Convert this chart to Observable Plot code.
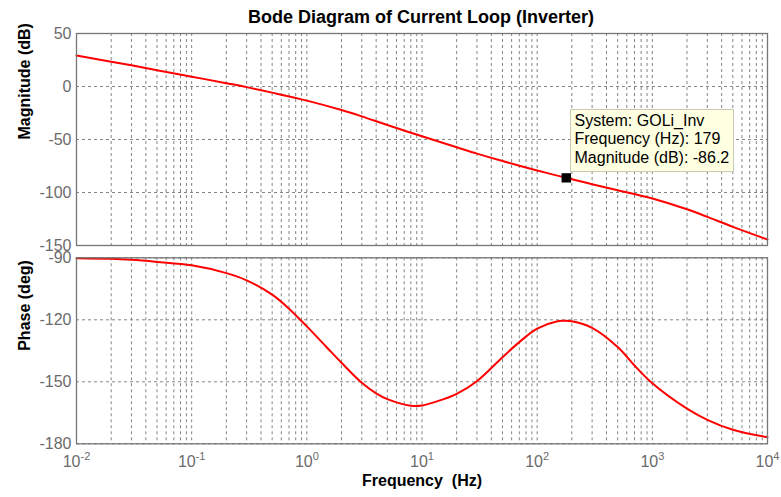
<!DOCTYPE html>
<html>
<head>
<meta charset="utf-8">
<script src="https://cdn.jsdelivr.net/npm/d3@7"></script>
<script src="https://cdn.jsdelivr.net/npm/@observablehq/plot@0.6"></script>
<style>
  html, body { margin: 0; padding: 0; background: #fff; }
  #chart { position: relative; width: 781px; height: 497px; font-family: "Liberation Sans", Arial, sans-serif; }
  #title { position: absolute; left: 76px; width: 690px; top: 6.5px; text-align: center; font-size: 18px; line-height: 20px; font-weight: bold; color: #000; }
  #chart svg { position: absolute; left: 0; }
</style>
</head>
<body>
<div id="chart"><div id="title">Bode Diagram of Current Loop (Inverter)</div></div>
<script>
// ---- data ----
const freqHz = [0.01, 0.02, 0.03, 0.05, 0.1, 0.2, 0.3, 0.5, 1, 2, 3, 5, 10, 20, 30, 50, 100, 179, 200, 300, 500, 1000, 2000, 3000, 5000, 10000];
const magnitudeDb = [29.2, 23.4, 20.0, 15.4, 9.3, 3.1, -0.6, -5.8, -13.3, -22.2, -28.2, -36.3, -47.0, -57.3, -63.3, -70.3, -79.2, -86.2, -87.5, -92.2, -97.8, -105.6, -115.8, -123.0, -132.4, -144.3];

const phaseFreqHz = [0.01, 0.02, 0.03, 0.05, 0.1, 0.2, 0.3, 0.5, 0.7, 1, 1.5, 2, 3, 4, 5, 8, 10, 15, 20, 30, 50, 70, 100, 150, 170, 200, 300, 500, 700, 1000, 2000, 3000, 5000, 10000];
const phaseDeg = [-90.2, -90.5, -91, -92, -93.6, -97.4, -100.9, -107.8, -114.6, -123.2, -133.5, -140.8, -150.5, -155.6, -158.4, -161.6, -161.5, -158.6, -155.8, -149.7, -138.1, -130.8, -124.3, -120.7, -120.5, -120.7, -123.9, -133.2, -142.1, -150.7, -163, -168.4, -173.2, -176.8];

const magTicks = [50, 0, -50, -100, -150];
const phaseTicks = [-90, -120, -150, -180];
const decadeTicks = [0.01, 0.1, 1, 10, 100, 1000, 10000];
const decadeExponents = ["-2", "-1", "0", "1", "2", "3", "4"];
const minorMultipliers = [1, 2, 3, 4, 5, 6, 7, 8, 9];

const tipSystem = "GOLi_Inv";
const tipFreq = 179;
const tipMag = -86.2;

const magLabel = "Magnitude (dB)";
const phaseLabel = "Phase (deg)";
const freqLabel = "Frequency \u00a0(Hz)";

// ---- build ----
const gridX = [];
decadeTicks.slice(0, -1).forEach(d => minorMultipliers.forEach(m => gridX.push(d * m)));
gridX.push(10000);

const magData = freqHz.map((f, i) => ({f, v: magnitudeDb[i]}));
const phaseData = phaseFreqHz.map((f, i) => ({f, v: phaseDeg[i]}));

const font = '"Liberation Sans", Arial, sans-serif';
const gridStyle = {stroke: "#858585", strokeWidth: 1, strokeDasharray: "3,3"};
const tickColor = "#6b6b6b";
const xDomain = [0.01, 10000];

const magPlot = Plot.plot({
  width: 781, height: 250,
  marginTop: 33, marginBottom: 5, marginLeft: 76, marginRight: 14,
  style: {fontFamily: font, background: "transparent", overflow: "visible"},
  x: {type: "log", domain: xDomain, axis: null},
  y: {domain: [-150, 50]},
  marks: [
    Plot.ruleX(gridX, gridStyle),
    Plot.ruleY(magTicks, gridStyle),
    Plot.axisY({ticks: magTicks, tickSize: 0, tickPadding: 5, fontSize: 16, fill: tickColor, label: null, tickFormat: d => String(d)}),
    Plot.line(magData, {x: "f", y: "v", stroke: "#ff0000", strokeWidth: 2, curve: "catmull-rom"}),
    Plot.tip([{f: tipFreq, v: tipMag}], {
      x: "f", y: "v",
      title: d => `System: ${tipSystem}\nFrequency (Hz): ${d.f}\nMagnitude (dB): ${d.v}`,
      anchor: "bottom-left", pointerSize: 0, dx: 4, dy: -6,
      fill: "#ffffe1", stroke: "#c9c9b5", pathFilter: "none",
      fontSize: 16, lineHeight: 1.15, textPadding: 4, fontFamily: font
    }),
    Plot.dot([{f: tipFreq, v: tipMag}], {x: "f", y: "v", symbol: "square", r: 4.5, fill: "#000", stroke: "#000"}),
    Plot.text([magLabel], {frameAnchor: "left", rotate: -90, dx: -51.5, fontWeight: "bold", fontSize: 16, fill: "#000"}),
    Plot.frame({stroke: "#767676", strokeWidth: 1.3})
  ]
});
magPlot.style.top = "0px";

const phasePlot = Plot.plot({
  width: 781, height: 247,
  marginTop: 7.3, marginBottom: 53.7, marginLeft: 76, marginRight: 14,
  style: {fontFamily: font, background: "transparent", overflow: "visible"},
  x: {type: "log", domain: xDomain},
  y: {domain: [-180, -90]},
  marks: [
    Plot.ruleX(gridX, gridStyle),
    Plot.ruleY(phaseTicks, gridStyle),
    Plot.axisX({ticks: decadeTicks, tickSize: 0, tickPadding: 12, fontSize: 16, fill: tickColor, label: null,
      tickFormat: d => decadeExponents[decadeTicks.indexOf(d)]}),
    Plot.axisY({ticks: phaseTicks, tickSize: 0, tickPadding: 5, fontSize: 16, fill: tickColor, label: null, tickFormat: d => String(d)}),
    Plot.line(phaseData, {x: "f", y: "v", stroke: "#ff0000", strokeWidth: 2, curve: "catmull-rom"}),
    Plot.text([phaseLabel], {frameAnchor: "left", rotate: -90, dx: -51.5, fontWeight: "bold", fontSize: 16, fill: "#000"}),
    Plot.text([freqLabel], {frameAnchor: "bottom", dy: 42.4, fontWeight: "bold", fontSize: 16, fill: "#000"}),
    Plot.frame({stroke: "#767676", strokeWidth: 1.3})
  ]
});
phasePlot.style.top = "250px";

// superscript exponents on the x tick labels
phasePlot.querySelectorAll('g[aria-label="x-axis tick label"] text').forEach(t => {
  const e = t.textContent;
  t.textContent = "10";
  const ts = document.createElementNS("http://www.w3.org/2000/svg", "tspan");
  ts.setAttribute("dy", "-7");
  ts.setAttribute("font-size", "11");
  ts.textContent = e;
  t.appendChild(ts);
});

const chart = document.getElementById("chart");
chart.appendChild(magPlot);
chart.appendChild(phasePlot);
</script>
</body>
</html>
